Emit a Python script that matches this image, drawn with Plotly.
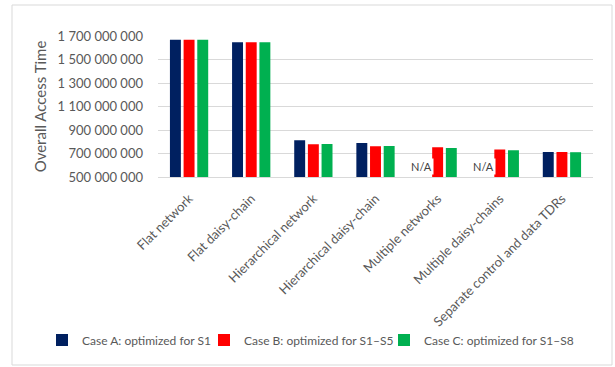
import plotly.graph_objects as go

categories = ["Flat network", "Flat daisy-chain", "Hierarchical network",
              "Hierarchical daisy-chain", "Multiple networks",
              "Multiple daisy-chains", "Separate control and data TDRs"]
case_a = [1669e6, 1646e6, 812e6, 789e6, None, None, 713e6]
case_b = [1669e6, 1646e6, 778e6, 761e6, 753e6, 733e6, 713e6]
case_c = [1669e6, 1646e6, 781e6, 763e6, 747e6, 727e6, 711e6]
series_names = ["Case A: optimized for S1", "Case B: optimized for S1\u2013S5",
                "Case C: optimized for S1\u2013S8"]
colors = ["#002060", "#FF0000", "#00B050"]
tick_vals = [500e6, 700e6, 900e6, 1100e6, 1300e6, 1500e6, 1700e6]
tick_text = ["500 000 000", "700 000 000", "900 000 000", "1 100 000 000",
             "1 300 000 000", "1 500 000 000", "1 700 000 000"]
na_categories = ["Multiple networks", "Multiple daisy-chains"]

FONT = "Lato, 'Open Sans', sans-serif"
legend_ids = ["legend", "legend2", "legend3"]
legend_px = [42, 204, 384]

fig = go.Figure()
for name, vals, col, lid in zip(series_names, [case_a, case_b, case_c], colors, legend_ids):
    fig.add_trace(go.Bar(x=categories, y=vals, name=name, marker_color=col,
                         marker_line_width=0, legend=lid))

for cat in na_categories:
    fig.add_annotation(x=cat, y=590e6, xref="x", yref="y", text="N/A",
                       showarrow=False, xshift=-16, bgcolor="white",
                       font=dict(family=FONT, size=11, color="#404040"))

fig.add_shape(type="rect", xref="paper", yref="paper",
              x0=(12 - 158) / 435, x1=(612 - 158) / 435,
              y0=(177 - 365) / 141, y1=(177 - 5) / 141,
              line=dict(color="#D9D9D9", width=1), layer="below")

legend_cfg = {}
for lid, px in zip(legend_ids, legend_px):
    legend_cfg[lid] = dict(orientation="h", x=(px - 158) / 435, xanchor="left",
                           y=(177 - 340) / 141, yanchor="middle",
                           font=dict(family=FONT, size=12, color="#595959"),
                           itemwidth=30, bgcolor="rgba(0,0,0,0)")

fig.update_layout(
    width=615, height=367,
    margin=dict(l=158, r=22, t=36, b=190),
    paper_bgcolor="white", plot_bgcolor="white",
    barmode="group", bargap=0.34, bargroupgap=0.2,
    font=dict(family=FONT, color="#595959"),
    showlegend=True,
    xaxis=dict(tickangle=-45, tickfont=dict(family=FONT, size=13, color="#595959"),
               showline=True, linecolor="#D9D9D9", ticks="", ticklabelstandoff=8),
    yaxis=dict(range=[500e6, 1700e6], tickvals=tick_vals, ticktext=tick_text,
               tickfont=dict(family=FONT, size=13, color="#595959"),
               gridcolor="#D9D9D9", zeroline=False, ticks="", ticklabelstandoff=14,
               title=dict(text="Overall Access Time",
                          font=dict(family=FONT, size=15, color="#595959"),
                          standoff=7)),
    **legend_cfg,
)
fig.write_html("out.html")
